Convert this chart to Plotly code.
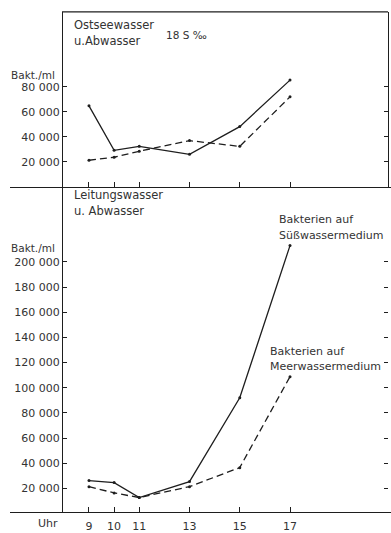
import plotly.graph_objects as go

W, H = 391, 533

hours = [9, 10, 11, 13, 15, 17]
hour_labels = ["9", "10", "11", "13", "15", "17"]

# Top panel: Ostseewasser u. Abwasser (18 S ‰)
ostsee_suess = [64800, 29200, 32400, 26000, 48200, 85400]
ostsee_meer = [21300, 23700, 28500, 37000, 32400, 72000]

# Bottom panel: Leitungswasser u. Abwasser
leitung_suess = [26200, 24600, 12700, 25400, 92000, 213000]
leitung_meer = [21400, 16400, 12700, 21400, 36500, 108800]

top_ticks = [20000, 40000, 60000, 80000]
top_tick_labels = ["20 000", "40 000", "60 000", "80 000"]
bot_ticks = [20000, 40000, 60000, 80000, 100000, 120000, 140000, 160000, 180000, 200000]
bot_tick_labels = ["20 000", "40 000", "60 000", "80 000", "100 000", "120 000",
                   "140 000", "160 000", "180 000", "200 000"]

INK = "#1e1e1e"
TXT = "#333333"
FONT = "DejaVu Sans"


def px(x):
    return x / W


def py(y):
    return (H - y) / H


fig = go.Figure()

line_solid = dict(color=INK, width=1.3)
line_dash = dict(color=INK, width=1.3, dash="7px,4px")
mk = dict(size=3, color=INK)

fig.add_trace(go.Scatter(x=hours, y=ostsee_suess, mode="lines+markers", line=line_solid,
                         marker=mk, xaxis="x2", yaxis="y2", showlegend=False))
fig.add_trace(go.Scatter(x=hours, y=ostsee_meer, mode="lines+markers", line=line_dash,
                         marker=mk, xaxis="x2", yaxis="y2", showlegend=False))
fig.add_trace(go.Scatter(x=hours, y=leitung_suess, mode="lines+markers", line=line_solid,
                         marker=mk, xaxis="x", yaxis="y", showlegend=False))
fig.add_trace(go.Scatter(x=hours, y=leitung_meer, mode="lines+markers", line=line_dash,
                         marker=mk, xaxis="x", yaxis="y", showlegend=False))

xr = [5.856, 21.02]
xdom = [px(10), 1.0]
ydom_bot = [py(518), py(189)]
ydom_top = [py(189), py(12)]

common_x = dict(range=xr, domain=xdom, showgrid=False, zeroline=False, showline=True,
                linecolor=INK, linewidth=1.2, ticks="inside", ticklen=5, tickwidth=1,
                tickcolor=INK, tickvals=hours, ticktext=hour_labels)

fig.update_layout(
    width=W, height=H,
    margin=dict(l=0, r=0, t=0, b=0),
    paper_bgcolor="white", plot_bgcolor="white",
    font=dict(family=FONT, size=11, color=TXT),
    xaxis=dict(**common_x, anchor="y", showticklabels=True, ticklabelstandoff=4,
               tickfont=dict(family=FONT, size=11, color=TXT)),
    xaxis2=dict(**common_x, anchor="y2", showticklabels=False),
    yaxis=dict(domain=ydom_bot, range=[1100, 259700], anchor="free", position=px(62),
               showgrid=False, zeroline=False, showline=True, linecolor=INK, linewidth=1.2,
               ticks="inside", ticklen=4, tickwidth=1, tickcolor=INK,
               tickvals=bot_ticks, ticktext=bot_tick_labels,
               tickfont=dict(family=FONT, size=11, color=TXT)),
    yaxis2=dict(domain=ydom_top, range=[0, 140000], anchor="free", position=px(62),
                showgrid=False, zeroline=False, showline=True, linecolor=INK, linewidth=1.2,
                ticks="inside", ticklen=4, tickwidth=1, tickcolor=INK,
                tickvals=top_ticks, ticktext=top_tick_labels,
                tickfont=dict(family=FONT, size=11, color=TXT)),
    yaxis3=dict(overlaying="y", side="right", range=[1100, 259700], anchor="free",
                position=px(388), showgrid=False, zeroline=False, showline=False,
                ticks="inside", ticklen=4, tickwidth=1, tickcolor=INK,
                tickvals=bot_ticks, showticklabels=False),
    yaxis4=dict(overlaying="y2", side="right", range=[0, 140000], anchor="free",
                position=px(388), showgrid=False, zeroline=False, showline=True,
                linecolor=INK, linewidth=1.2,
                ticks="inside", ticklen=4, tickwidth=1, tickcolor=INK,
                tickvals=top_ticks, showticklabels=False),
)

# invisible traces to activate right-side axes
fig.add_trace(go.Scatter(x=[None], y=[None], xaxis="x", yaxis="y3", showlegend=False,
                         hoverinfo="skip"))
fig.add_trace(go.Scatter(x=[None], y=[None], xaxis="x2", yaxis="y4", showlegend=False,
                         hoverinfo="skip"))

# top frame line of upper panel
fig.add_shape(type="line", xref="paper", yref="paper", x0=px(62), x1=px(388),
              y0=py(12), y1=py(12), line=dict(color=INK, width=1.2))

ann = [
    ("Ostseewasser", 72, 25, "left", 11.5),
    ("u.Abwasser", 72, 41, "left", 11.5),
    ("18 S ‰", 164, 35, "left", 10.5),
    ("Bakt./ml", 57, 76, "right", 10.5),
    ("Leitungswasser", 72, 197, "left", 11.5),
    ("u. Abwasser", 72, 213, "left", 11.5),
    ("Bakt./ml", 57, 251, "right", 10.5),
    ("Bakterien auf", 277, 222, "left", 11),
    ("Süßwassermedium", 277, 238, "left", 11),
    ("Bakterien auf", 268, 356, "left", 11),
    ("Meerwassermedium", 268, 371, "left", 11),
    ("Uhr", 48, 529, "center", 11),
]
for text, x, y, xa, size in ann:
    fig.add_annotation(text=text, xref="paper", yref="paper", x=px(x), y=py(y),
                       xanchor=xa, yanchor="middle", showarrow=False,
                       font=dict(family=FONT, size=size, color=TXT))

fig.write_html("out.html", config={"displayModeBar": False},
               post_script="document.body.style.margin='0';document.body.style.overflow='hidden';")
